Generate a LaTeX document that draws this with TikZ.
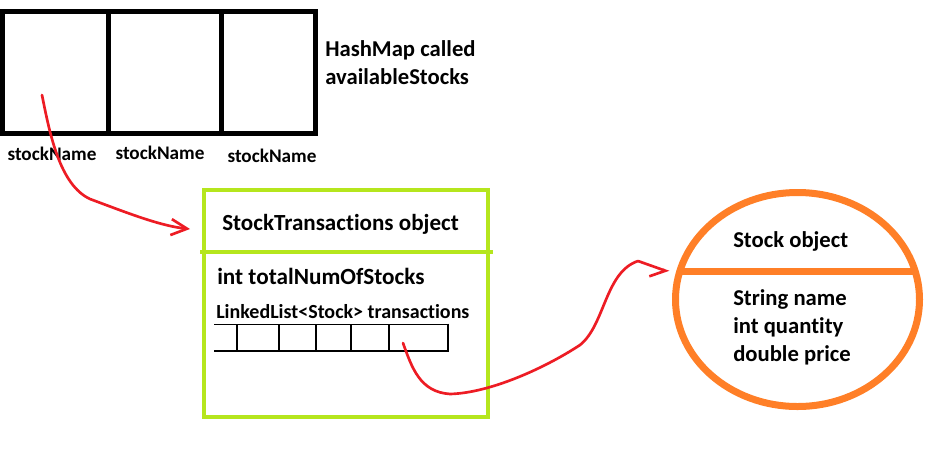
\documentclass[tikz,border=0pt]{standalone}
\usepackage{fontspec}
\setmainfont{Carlito}[Ligatures={NoCommon,NoDiscretionary,NoContextual}]
\usetikzlibrary{shapes.geometric,arrows.meta}
\definecolor{paintred}{HTML}{ED1C24}
\definecolor{paintgreen}{HTML}{B5E61D}
\definecolor{paintorange}{HTML}{FF7F27}
\begin{document}
\begin{tikzpicture}[x=0.75pt,y=-0.75pt,
  every node/.style={font=\bfseries, inner sep=0pt},
  bucket/.style={draw, line width=3.75pt, minimum height=91.5pt},
  keylabel/.style={font=\bfseries\fontsize{14.4pt}{16pt}\selectfont},
  bigtext/.style={font=\bfseries\fontsize{17pt}{21pt}\selectfont, align=left},
  listline/.style={line width=0.9pt},
  scribble/.style={paintred, line width=2pt, line cap=round, line join=round}]
  \useasboundingbox (0,0) rectangle (938,465);
  \node[bucket, minimum width=79.5pt] (c1) at (55.5,72.5) {};
  \node[bucket, minimum width=84.75pt] (c2) at (165,72.5) {};
  \node[bucket, minimum width=70.5pt] (c3) at (268.5,72.5) {};
  \node[keylabel] (k1) at (52,154) {stockName};
  \node[keylabel] (k2) at (160,153) {stockName};
  \node[keylabel] (k3) at (272,156) {stockName};
  \node[bigtext, anchor=west] (mapname) at (325,63) {HashMap called\\availableStocks};
  \node[draw=paintgreen, line width=3pt, minimum width=213pt, minimum height=170.6pt] (stx) at (346,303.75) {};
  \draw[paintgreen, line width=3pt] (200,251.5) -- (493,251.5);
  \node[bigtext, anchor=west, font=\bfseries\fontsize{17.3pt}{21pt}\selectfont] (stxtitle) at (222,224) {StockTransactions object};
  \node[bigtext, anchor=west, font=\bfseries\fontsize{17.4pt}{21pt}\selectfont] (total) at (217,276) {int totalNumOfStocks};
  \node[anchor=west, font=\bfseries\fontsize{15pt}{18pt}\selectfont] (listname) at (216,312) {LinkedList<Stock> transactions};
  \draw[listline] (214,324.5) -- (448,324.5) (214,351) -- (448,351);
  \foreach \x in {237,279,316,351,389}
    \draw[listline] (\x,324.5) -- (\x,351);
  \draw[line width=1.5pt] (448,323.5) -- (448,352);
  \node[ellipse, draw=paintorange, line width=5.25pt, minimum width=183pt, minimum height=160.5pt] (stock) at (797.5,299.5) {};
  \draw[paintorange, line width=5.25pt] (680,271.5) -- (915,271.5);
  \node[bigtext, anchor=west] (stocktitle) at (733,241) {Stock object};
  \node[bigtext, anchor=west] (fields) at (733,327) {String name\\int quantity\\double price};
  \coordinate (key1) at (42,95);
  \coordinate (tip1) at (190,229);
  \coordinate (slot) at (403,343);
  \coordinate (tip2) at (669,272);
  \draw[scribble, -{Straight Barb[length=12pt, width=12pt]}] (key1) .. controls (50,135) and (60,185) .. (90,199) .. controls (125,212) and (160,226) .. (tip1);
  \draw[scribble, -{Straight Barb[right, length=10pt, width=16pt]}] (slot) .. controls (412,368) and (420,392) .. (450,394) .. controls (490,393) and (545,368) .. (580,345) .. controls (605,325) and (605,272) .. (638,261) -- (tip2);
\end{tikzpicture}
\end{document}
